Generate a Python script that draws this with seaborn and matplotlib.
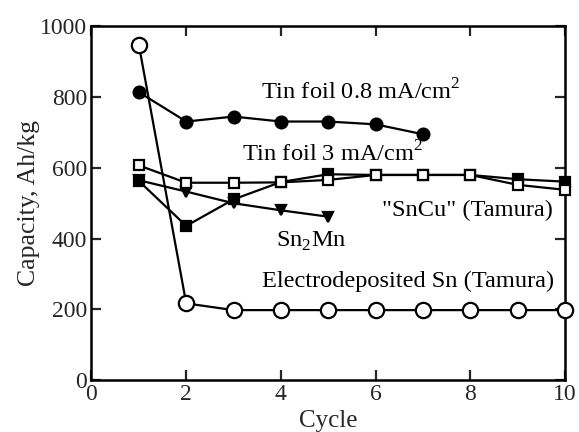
import matplotlib
matplotlib.use("Agg")
import matplotlib.pyplot as plt
import seaborn as sns
import pandas as pd

sns.set_theme(style="ticks")
plt.rcParams["font.family"] = ["Liberation Serif", "DejaVu Serif"]
plt.rcParams["mathtext.fontset"] = "custom"
plt.rcParams["mathtext.rm"] = "Liberation Serif"

# Capacity (Ah/kg) versus cycle number
cycles_foil08 = [1, 2, 3, 4, 5, 6, 7]
cap_foil08 = [814, 731, 745, 731, 731, 723, 695]

cycles_foil3 = [1, 2, 3, 4, 5, 6, 7, 8, 9, 10]
cap_foil3 = [563, 436, 511, 560, 582, 580, 580, 580, 568, 561]

cycles_sncu = [1, 2, 3, 4, 5, 6, 7, 8, 9, 10]
cap_sncu = [607, 558, 558, 559, 566, 580, 580, 580, 552, 538]

cycles_sn2mn = [1, 2, 3, 4, 5]
cap_sn2mn = [565, 533, 500, 480, 462]

cycles_edsn = [1, 2, 3, 4, 5, 6, 7, 8, 9, 10]
cap_edsn = [948, 217, 198, 198, 198, 198, 198, 198, 198, 198]

series = [
    ("Sn2Mn", cycles_sn2mn, cap_sn2mn, "v", 7.5, "black", 3),
    ("Tin foil 3", cycles_foil3, cap_foil3, "s", 7.5, "black", 4),
    ("SnCu", cycles_sncu, cap_sncu, "s", 7.0, "white", 5),
    ("Tin foil 0.8", cycles_foil08, cap_foil08, "o", 8.5, "black", 6),
    ("Electrodeposited Sn", cycles_edsn, cap_edsn, "o", 11.0, "white", 7),
]

fig = plt.figure(figsize=(5.79, 4.32), dpi=100)
ax = fig.add_axes([0.158, 0.12, 0.818, 0.819])

for name, xs, ys, mk, ms, face, z in series:
    df = pd.DataFrame({"Cycle": xs, "Capacity": ys})
    sns.lineplot(data=df, x="Cycle", y="Capacity", ax=ax, color="black",
                 linewidth=1.6, marker=mk, markersize=ms,
                 markerfacecolor=face, markeredgecolor="black",
                 markeredgewidth=1.6, zorder=z, clip_on=False)

ax.set_xlim(0, 10)
ax.set_ylim(0, 1000)
ax.set_xticks(range(0, 11, 2))
ax.set_yticks(range(0, 1001, 200))
ax.tick_params(direction="in", length=7, width=1.6, labelsize=17,
               top=True, right=True, pad=3)
for sp in ax.spines.values():
    sp.set_linewidth(1.8)
    sp.set_color("black")

ax.set_xlabel("Cycle", fontsize=18, labelpad=2)
ax.xaxis.set_label_coords(0.5, -0.085)
ax.set_ylabel("Capacity, Ah/kg", fontsize=18.5, labelpad=0)

lab = dict(fontsize=17.6, va="center", ha="left", color="black")
ax.text(3.57, 815, r"Tin foil 0.8 mA/cm$^{2}$", **lab)
ax.text(3.18, 641, r"Tin foil 3 mA/cm$^{2}$", **lab)
ax.text(6.13, 481, '"SnCu" (Tamura)', **lab)
ax.text(3.89, 391, r"Sn$_{2}$Mn", **lab)
ax.text(3.6, 278, "Electrodeposited Sn (Tamura)", **lab)

fig.savefig("out.png", dpi=100)
